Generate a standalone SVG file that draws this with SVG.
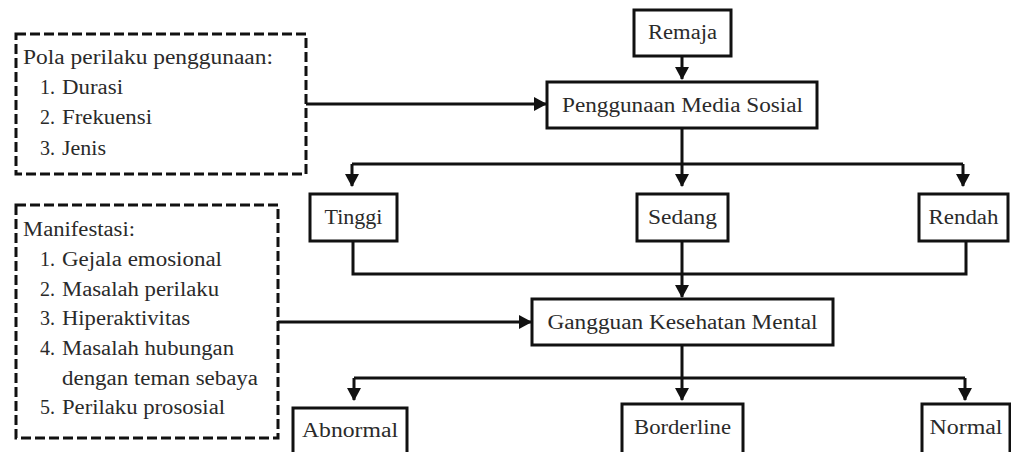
<svg xmlns="http://www.w3.org/2000/svg" width="1011" height="452" viewBox="0 0 1011 452">
<defs>
<style>
.box{fill:#fff;stroke:#111;stroke-width:3}
.dash{fill:#fff;stroke:#111;stroke-width:3;stroke-dasharray:10 4}
.con{fill:none;stroke:#111;stroke-width:3}
.c{text-anchor:middle}
</style>
<marker id="ah" viewBox="0 0 13 14" refX="12" refY="7" markerWidth="13" markerHeight="14" orient="auto" markerUnits="userSpaceOnUse">
<path d="M0,0 L13,7 L0,14 z" fill="#111"/>
</marker>
</defs>
<rect width="1011" height="452" fill="#fff"/>
<g id="connectors">
<path class="con" d="M682,56 V79" marker-end="url(#ah)"/>
<path class="con" d="M306,104 H546" marker-end="url(#ah)"/>
<path class="con" d="M682,128 V164 M352,164 H963"/>
<path class="con" d="M352,164 V186" marker-end="url(#ah)"/>
<path class="con" d="M682,164 V186" marker-end="url(#ah)"/>
<path class="con" d="M963,164 V186" marker-end="url(#ah)"/>
<path class="con" d="M353,241 V274 H966 V241"/>
<path class="con" d="M682,241 V297" marker-end="url(#ah)"/>
<path class="con" d="M278,322 H531" marker-end="url(#ah)"/>
<path class="con" d="M682,345 V378 M354,378 H965"/>
<path class="con" d="M354,378 V400" marker-end="url(#ah)"/>
<path class="con" d="M682,378 V400" marker-end="url(#ah)"/>
<path class="con" d="M965,378 V400" marker-end="url(#ah)"/>
</g>
<g font-family="Liberation Serif, Times New Roman, serif" font-size="20" fill="#2a2a2a">
<g id="pola">
<rect class="dash" x="16" y="34" width="290" height="140"/>
<text x="23" y="64" textLength="250" lengthAdjust="spacingAndGlyphs">Pola perilaku penggunaan:</text>
<text x="40" y="94">1.</text><text x="62" y="94" textLength="61" lengthAdjust="spacingAndGlyphs">Durasi</text>
<text x="40" y="124">2.</text><text x="62" y="124" textLength="90" lengthAdjust="spacingAndGlyphs">Frekuensi</text>
<text x="40" y="155">3.</text><text x="62" y="155" textLength="44" lengthAdjust="spacingAndGlyphs">Jenis</text>
</g>
<g id="manifestasi">
<rect class="dash" x="16" y="205" width="262" height="233"/>
<text x="23" y="236" textLength="112" lengthAdjust="spacingAndGlyphs">Manifestasi:</text>
<text x="40" y="266">1.</text><text x="62" y="266" textLength="160" lengthAdjust="spacingAndGlyphs">Gejala emosional</text>
<text x="40" y="296">2.</text><text x="62" y="296" textLength="157" lengthAdjust="spacingAndGlyphs">Masalah perilaku</text>
<text x="40" y="325">3.</text><text x="62" y="325" textLength="128" lengthAdjust="spacingAndGlyphs">Hiperaktivitas</text>
<text x="40" y="355">4.</text><text x="62" y="355" textLength="172" lengthAdjust="spacingAndGlyphs">Masalah hubungan</text>
<text x="62" y="385" textLength="196" lengthAdjust="spacingAndGlyphs">dengan teman sebaya</text>
<text x="40" y="414">5.</text><text x="62" y="414" textLength="163" lengthAdjust="spacingAndGlyphs">Perilaku prososial</text>
</g>
<g id="remaja">
<rect class="box" x="634" y="10" width="97" height="46"/>
<text class="c" x="682.5" y="39" textLength="69" lengthAdjust="spacingAndGlyphs">Remaja</text>
</g>
<g id="penggunaan">
<rect class="box" x="547" y="82" width="270" height="46"/>
<text class="c" x="682.5" y="112" textLength="241" lengthAdjust="spacingAndGlyphs">Penggunaan Media Sosial</text>
</g>
<g id="tinggi">
<rect class="box" x="310" y="194" width="87" height="47"/>
<text class="c" x="353.5" y="224" textLength="58" lengthAdjust="spacingAndGlyphs">Tinggi</text>
</g>
<g id="sedang">
<rect class="box" x="637" y="194" width="91" height="47"/>
<text class="c" x="682.5" y="224" textLength="69" lengthAdjust="spacingAndGlyphs">Sedang</text>
</g>
<g id="rendah">
<rect class="box" x="919" y="194" width="89" height="47"/>
<text class="c" x="963.5" y="224" textLength="70" lengthAdjust="spacingAndGlyphs">Rendah</text>
</g>
<g id="gangguan">
<rect class="box" x="532" y="299" width="301" height="46"/>
<text class="c" x="682.5" y="329" textLength="270" lengthAdjust="spacingAndGlyphs">Gangguan Kesehatan Mental</text>
</g>
<g id="abnormal">
<rect class="box" x="293" y="408" width="114" height="46"/>
<text class="c" x="350" y="437" textLength="96" lengthAdjust="spacingAndGlyphs">Abnormal</text>
</g>
<g id="borderline">
<rect class="box" x="622" y="404" width="121" height="50"/>
<text class="c" x="682.5" y="434" textLength="97" lengthAdjust="spacingAndGlyphs">Borderline</text>
</g>
<g id="normal">
<rect class="box" x="922" y="404" width="88" height="50"/>
<text class="c" x="966" y="434" textLength="73" lengthAdjust="spacingAndGlyphs">Normal</text>
</g>
</g>
</svg>
